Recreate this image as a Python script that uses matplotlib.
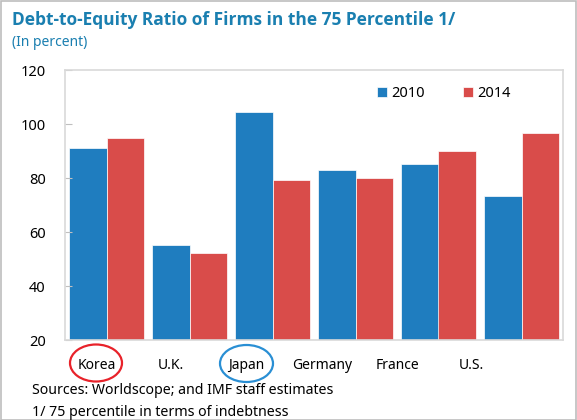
import numpy as np
import matplotlib
matplotlib.use("Agg")
import matplotlib.pyplot as plt
from matplotlib.patches import Ellipse, Rectangle

plt.rcParams['font.family'] = ['Noto Sans', 'DejaVu Sans']

# ---------------- Data ----------------
countries = ["Korea", "U.K.", "Japan", "Germany", "France", "U.S."]
ratio_2010 = [91.2, 55.2, 104.6, 82.8, 85.2, 73.3]
ratio_2014 = [94.8, 52.2, 79.1, 80.1, 90.0, 96.5]

BLUE = "#1f7dbf"
RED = "#d94c4a"
TITLE_BLUE = "#1a7fb0"

W, H = 577, 420
fig = plt.figure(figsize=(W / 100, H / 100), dpi=100)

# Gray frame around whole figure
fig.patches.append(Rectangle((0.5 / W, 0.5 / H), 1 - 1.5 / W, 1 - 1.5 / H,
                             transform=fig.transFigure, fill=False,
                             edgecolor="#bdbdbd", linewidth=1.2))

ax = fig.add_axes([65 / W, 1 - 340 / H, 498 / W, 270 / H])

x = np.arange(len(countries))
bw = 0.45
ax.bar(x - bw / 2, ratio_2010, bw, bottom=0, color=BLUE,
       edgecolor="white", linewidth=0.5, label="2010")
ax.bar(x + bw / 2, ratio_2014, bw, bottom=0, color=RED,
       edgecolor="white", linewidth=0.5, label="2014")

ax.set_ylim(20, 120)
ax.set_xlim(-0.5, len(countries) - 0.5)
ax.set_yticks([20, 40, 60, 80, 100, 120])
ax.tick_params(axis="y", direction="in", length=5, color="#bfbfbf",
               labelsize=10.5, pad=14)

# category labels sit a bit left of the bar groups in the original
label_pos = [-0.12, 0.77, 1.68, 2.6, 3.51, 4.4]
ax.set_xticks(label_pos)
ax.set_xticklabels(countries, fontsize=10)
ax.tick_params(axis="x", length=0, pad=13)

for s in ax.spines.values():
    s.set_color("#d9d9d9")
    s.set_linewidth(1.2)

leg = ax.legend(loc="upper left", bbox_to_anchor=(0.6, 0.99), ncol=2,
                frameon=False, fontsize=10.5, handlelength=0.7,
                handleheight=0.7, handletextpad=0.3, columnspacing=2.6)

# Ellipses around Korea and Japan labels
fig.patches.append(Ellipse((96 / W, 1 - 363 / H), 52 / W, 37 / H,
                           transform=fig.transFigure, fill=False,
                           edgecolor="#e8222a", linewidth=1.6))
fig.patches.append(Ellipse((246.5 / W, 1 - 363.5 / H), 53 / W, 37 / H,
                           transform=fig.transFigure, fill=False,
                           edgecolor="#2a8fd4", linewidth=1.6))

# ---------------- Text ----------------
fig.text(12 / W, 1 - 20 / H, "Debt-to-Equity Ratio of Firms in the 75 Percentile 1/",
         fontsize=12.5, fontweight="bold", family="Open Sans",
         color=TITLE_BLUE, va="center")
fig.text(12 / W, 1 - 43 / H, "(In percent)", fontsize=10, color=TITLE_BLUE,
         va="center")
fig.text(32 / W, 1 - 391 / H, "Sources: Worldscope; and IMF staff estimates",
         fontsize=10.2, va="center")
fig.text(32 / W, 1 - 412 / H, "1/ 75 percentile in terms of indebtness",
         fontsize=10.2, va="center")

fig.savefig("out.png", dpi=100)
